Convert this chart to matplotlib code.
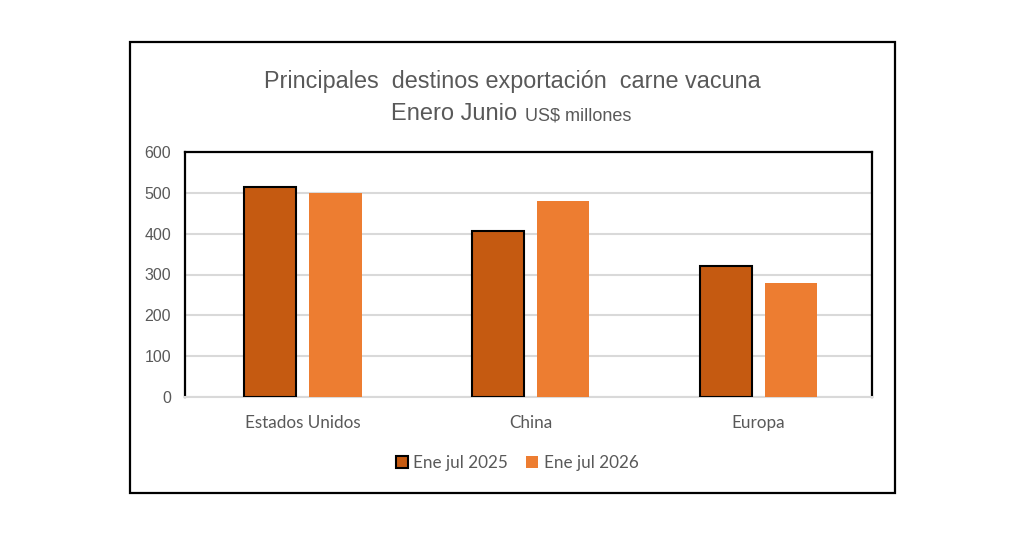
import matplotlib.pyplot as plt
import matplotlib.patches as mpatches
import numpy as np

# datos
categorias = ['Estados Unidos', 'China', 'Europa']
ene_jul_2025 = [515, 407, 320]
ene_jul_2026 = [500, 480, 280]
series = ['Ene jul 2025', 'Ene jul 2026']
yticks = [0, 100, 200, 300, 400, 500, 600]

color_2025 = '#C55A11'
color_2026 = '#ED7D31'
gris = '#595959'
narrow = ['Liberation Sans Narrow', 'Liberation Sans', 'DejaVu Sans']
cuerpo = ['Lato', 'DejaVu Sans']

fig = plt.figure(figsize=(10.24, 5.35), dpi=100)

# marco exterior del grafico
borde = mpatches.Rectangle((130 / 1024, 42 / 535), 765 / 1024, 451 / 535,
                           transform=fig.transFigure, fill=False,
                           edgecolor='black', linewidth=1.6)
fig.patches.append(borde)

ax = fig.add_axes([185 / 1024, 138 / 535, 687 / 1024, 245 / 535])

x = np.arange(len(categorias))
ancho = 0.229
sep = 0.0285
ax.bar(x - ancho / 2 - sep, ene_jul_2025, ancho, color=color_2025,
       edgecolor='black', linewidth=1.5, label=series[0], zorder=3)
ax.bar(x + ancho / 2 + sep, ene_jul_2026, ancho, color=color_2026,
       linewidth=0, label=series[1], zorder=3)

ax.set_xlim(-0.518, len(categorias) - 0.5)
ax.set_ylim(0, 600)
ax.set_yticks(yticks)
ax.set_yticklabels([str(v) for v in yticks], family=narrow, fontsize=11.5, color=gris)
ax.set_xticks(x)
ax.set_xticklabels(categorias, family=cuerpo, fontsize=12.3, color=gris)
ax.tick_params(axis='y', length=0, pad=10)
ax.tick_params(axis='x', length=0, pad=13)

ax.grid(axis='y', color='#D9D9D9', linewidth=1.5, zorder=0)
for lado in ['left', 'right', 'top']:
    ax.spines[lado].set_color('black')
    ax.spines[lado].set_linewidth(1.6)
ax.spines['bottom'].set_color('#D9D9D9')
ax.spines['bottom'].set_linewidth(1.5)

# titulo
fig.text(512 / 1024, 1 - 88 / 535, 'Principales  destinos exportación  carne vacuna',
         ha='center', va='baseline', family=narrow, fontsize=16.8, color=gris)
fig.text(517 / 1024, 1 - 120 / 535, 'Enero Junio', ha='right', va='baseline',
         family=narrow, fontsize=17, color=gris)
fig.text(525 / 1024, 1 - 120 / 535, 'US$ millones', ha='left', va='baseline',
         family=narrow, fontsize=13, color=gris)

leg = fig.legend(loc='center', bbox_to_anchor=(517 / 1024, 72 / 535), ncol=2,
                 frameon=False, prop={'family': cuerpo, 'size': 12.3},
                 handlelength=0.7, handleheight=0.7, handletextpad=0.3,
                 columnspacing=1.1)
for t in leg.get_texts():
    t.set_color(gris)

fig.savefig('out.png', dpi=100, facecolor='white')
